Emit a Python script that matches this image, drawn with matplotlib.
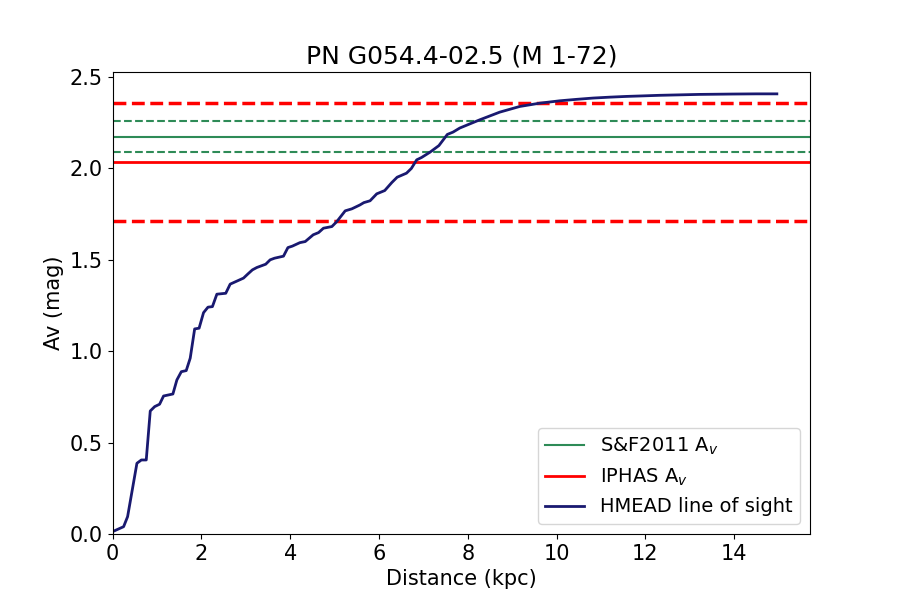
import matplotlib
matplotlib.use("Agg")
import matplotlib.pyplot as plt

dist = [0.03, 0.25, 0.34, 0.55, 0.65, 0.76, 0.85, 0.95, 1.06, 1.15, 1.36, 1.45, 1.55, 1.66,
        1.75, 1.85, 1.95, 2.05, 2.15, 2.25, 2.35, 2.55, 2.65, 2.75, 2.95, 3.05, 3.15, 3.25,
        3.35, 3.45, 3.55, 3.65, 3.85, 3.95, 4.05, 4.22, 4.34, 4.52, 4.64, 4.75, 4.94, 5.05,
        5.24, 5.39, 5.57, 5.66, 5.80, 5.95, 6.13, 6.29, 6.41, 6.62, 6.73, 6.85, 6.96, 7.15,
        7.35, 7.54, 7.67, 7.82, 8.27, 8.72, 9.17, 9.62, 10.07, 10.45, 10.82, 11.2, 11.57,
        11.95, 12.31, 12.85, 13.21, 13.6, 13.96, 14.5, 14.96]
av = [0.016, 0.04, 0.095, 0.387, 0.405, 0.405, 0.673, 0.697, 0.71, 0.755, 0.766, 0.843,
      0.888, 0.894, 0.962, 1.122, 1.126, 1.211, 1.241, 1.244, 1.312, 1.317, 1.367, 1.378,
      1.40, 1.423, 1.445, 1.458, 1.467, 1.476, 1.50, 1.509, 1.52, 1.567, 1.575, 1.594,
      1.60, 1.637, 1.649, 1.673, 1.682, 1.709, 1.768, 1.779, 1.80, 1.813, 1.823, 1.861,
      1.879, 1.923, 1.952, 1.974, 2.00, 2.047, 2.06, 2.089, 2.125, 2.186, 2.199, 2.221,
      2.266, 2.308, 2.339, 2.357, 2.37, 2.378, 2.385, 2.39, 2.394, 2.397, 2.40, 2.403,
      2.405, 2.406, 2.407, 2.408, 2.408]

sf_av = 2.173
sf_err = 0.085
iphas_av = 2.036
iphas_err = 0.323

title = "PN G054.4-02.5 (M 1-72)"

fig, ax = plt.subplots(figsize=(9, 6), dpi=100)
ax.axhline(sf_av, color="seagreen", lw=1.5, label="S&F2011 A$_v$")
ax.axhline(sf_av + sf_err, color="seagreen", lw=1.5, ls="--")
ax.axhline(sf_av - sf_err, color="seagreen", lw=1.5, ls="--")
ax.axhline(iphas_av, color="red", lw=2, label="IPHAS A$_v$")
ax.axhline(iphas_av + iphas_err, color="red", lw=2.5, ls="--")
ax.axhline(iphas_av - iphas_err, color="red", lw=2.5, ls="--")
ax.plot(dist, av, color="midnightblue", lw=2, label="HMEAD line of sight")

ax.set_xlim(left=0)
ax.set_ylim(bottom=0)
ax.set_title(title, fontsize=18)
ax.set_xlabel("Distance (kpc)", fontsize=15)
ax.set_ylabel("Av (mag)", fontsize=15)
ax.tick_params(labelsize=15)
ax.legend(loc="lower right", fontsize=14)
fig.savefig("out.png")
